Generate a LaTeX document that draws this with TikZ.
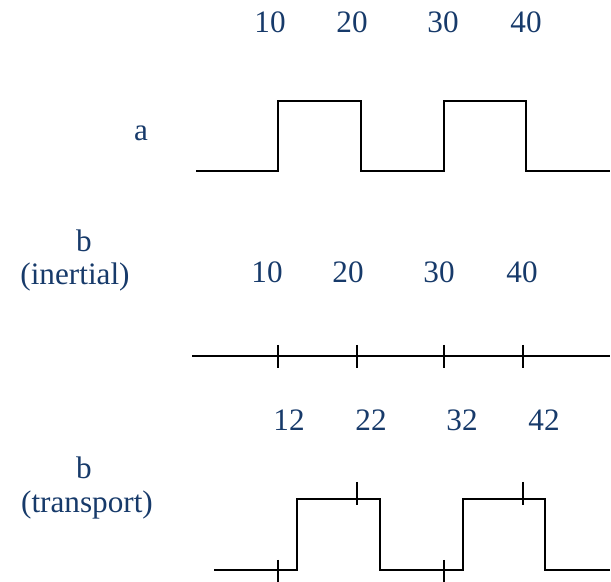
\documentclass[tikz,border=0pt]{standalone}
\usepackage{fontspec}
\setmainfont{Liberation Serif}
\usetikzlibrary{positioning}
\definecolor{Navy}{HTML}{173A6A}

\begin{document}
\begin{tikzpicture}[x=0.5pt,y=-0.5pt,
    lbl/.style={text=Navy,inner sep=0pt,font=\fontsize{15.6}{18}\selectfont},
    wave/.style={line width=1pt,line join=miter},
    tick/.style={line width=1pt}]
    \useasboundingbox (0,0) rectangle (611,582);
    % signal a
    \node[lbl] (ta10) at (270,22) {10};
    \node[lbl] (ta20) at (352,22) {20};
    \node[lbl] (ta30) at (443,22) {30};
    \node[lbl] (ta40) at (526,22) {40};
    \node[lbl] (siga) at (141,133) {a};
    \draw[wave] (196,171) -- (278,171) -- (278,101) -- (361,101) -- (361,171)
      -- (444,171) -- (444,101) -- (526,101) -- (526,171) -- (610,171);
    % signal b, inertial delay
    \node[lbl] (sigb) at (84,241) {b};
    \node[lbl] (inert) at (75,277) {(inertial)};
    \node[lbl] (tb10) at (267,272) {10};
    \node[lbl] (tb20) at (348,272) {20};
    \node[lbl] (tb30) at (439,272) {30};
    \node[lbl] (tb40) at (522,272) {40};
    \draw[wave] (192,356) -- (610,356);
    \foreach \x in {278,357,444,523}
      \draw[tick] (\x,345) -- (\x,368);
    % signal b, transport delay
    \node[lbl] (sigc) at (84,468) {b};
    \node[lbl] (trans) at (87,505) {(transport)};
    \node[lbl] (tc12) at (289,420) {12};
    \node[lbl] (tc22) at (371,420) {22};
    \node[lbl] (tc32) at (462,420) {32};
    \node[lbl] (tc42) at (544,420) {42};
    \draw[wave] (214,570) -- (297,570) -- (297,499) -- (380,499) -- (380,570)
      -- (463,570) -- (463,499) -- (545,499) -- (545,570) -- (610,570);
    \foreach \x in {278,444}
      \draw[tick] (\x,560) -- (\x,582);
    \foreach \x in {357,523}
      \draw[tick] (\x,482) -- (\x,505);
  \end{tikzpicture}
\end{document}
